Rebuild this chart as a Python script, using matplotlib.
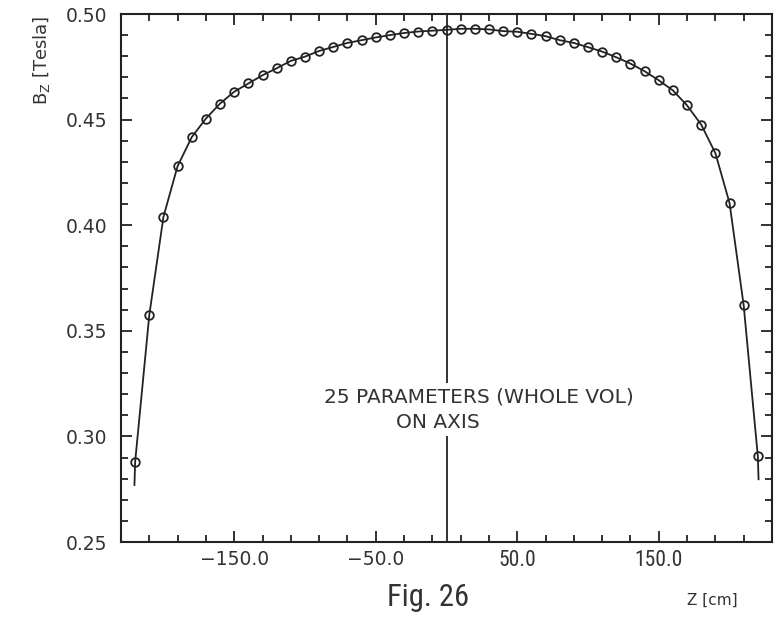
import matplotlib
matplotlib.use("Agg")
import matplotlib.pyplot as plt
from matplotlib.ticker import MultipleLocator, FixedLocator
from matplotlib import font_manager

# ---- data ----
z_cm = [-220, -210, -200, -190, -180, -170, -160, -150, -140, -130, -120,
        -110, -100, -90, -80, -70, -60, -50, -40, -30, -20, -10, 0,
        10, 20, 30, 40, 50, 60, 70, 80, 90, 100, 110, 120, 130, 140,
        150, 160, 170, 180, 190, 200, 210, 220]
bz_tesla = [0.288, 0.3575, 0.404, 0.428, 0.4417, 0.4505, 0.4576, 0.4632,
            0.4671, 0.4710, 0.4743, 0.4778, 0.4798, 0.4825, 0.4844, 0.4863,
            0.4876, 0.4889, 0.4900, 0.4910, 0.4917, 0.4921, 0.4925,
            0.4930, 0.4930, 0.4927, 0.4919, 0.4916, 0.4906, 0.4895, 0.4876,
            0.4863, 0.4843, 0.4822, 0.4795, 0.4765, 0.4729, 0.4686, 0.4638,
            0.4567, 0.4476, 0.4341, 0.4105, 0.3620, 0.2905]
# fitted curve continues a little below the outermost points
curve_start = (-220.5, 0.277)
curve_end = (220.5, 0.2797)

x_ticks = [-150, -50, 50, 150]
x_ticklabels = ["\u2212150.0", "\u221250.0", "50.0", "150.0"]
y_ticks = [0.25, 0.30, 0.35, 0.40, 0.45, 0.50]
y_ticklabels = ["0.25", "0.30", "0.35", "0.40", "0.45", "0.50"]

available = {f.name for f in font_manager.fontManager.ttflist}
narrow = [f for f in ["Liberation Sans Narrow", "DejaVu Sans Condensed",
                      "Roboto Condensed", "Roboto"] if f in available]
narrow = (narrow[:1] or []) + ["DejaVu Sans"]

W, H = 783, 618
fig = plt.figure(figsize=(W / 100, H / 100), dpi=100)
ax = fig.add_axes([121 / W, 1 - 542 / H, 651 / W, 528 / H])

curve_x = [curve_start[0]] + z_cm + [curve_end[0]]
curve_y = [curve_start[1]] + bz_tesla + [curve_end[1]]
ax.plot(curve_x, curve_y, color="#222222", lw=1.3, zorder=2)
ax.plot(z_cm, bz_tesla, linestyle="none", marker="o", ms=6.2,
        mfc="none", mec="#222222", mew=1.3, zorder=3)

ax.axvline(0, color="#222222", lw=1.3, zorder=1)

ax.set_xlim(-230, 230)
ax.set_ylim(0.25, 0.50)

ax.xaxis.set_major_locator(FixedLocator(x_ticks))
ax.set_xticklabels(x_ticklabels)
ax.xaxis.set_minor_locator(FixedLocator(list(range(-210, 230, 20))))
ax.yaxis.set_major_locator(FixedLocator(y_ticks))
ax.set_yticklabels(y_ticklabels)
ax.yaxis.set_minor_locator(MultipleLocator(0.01))

ax.tick_params(which="both", direction="in", top=True, right=True,
               color="#222222", width=1.3)
ax.tick_params(which="major", length=8)
ax.tick_params(which="minor", length=5)
ax.tick_params(axis="y", labelsize=13.5, pad=10, labelcolor="#333333")
ax.tick_params(axis="x", labelsize=13.5, pad=6, labelcolor="#333333")
for lbl, fam, size in zip(ax.get_xticklabels(),
                          [["DejaVu Sans"], ["DejaVu Sans"], narrow, narrow],
                          [13.5, 13.5, 15.5, 15.5]):
    lbl.set_fontfamily(fam)
    lbl.set_fontsize(size)

for sp in ax.spines.values():
    sp.set_linewidth(1.5)
    sp.set_color("#222222")

ax.text(23, 0.3187, "25 PARAMETERS (WHOLE VOL)", ha="center", va="center",
        fontsize=14.5, color="#333333",
        bbox=dict(facecolor="white", edgecolor="none", pad=3))
ax.text(-6, 0.3065, "ON AXIS", ha="center", va="center",
        fontsize=14.5, color="#333333",
        bbox=dict(facecolor="white", edgecolor="none", pad=3))

fig.text(42 / W, 1 - 60 / H, "B$_{\\mathregular{Z}}$ [Tesla]", rotation=90,
         ha="center", va="center", fontsize=13, color="#333333")
fig.text(428 / W, 1 - 597 / H, "Fig. 26", ha="center", va="center",
         fontsize=22, color="#333333", family=narrow)
fig.text(712 / W, 1 - 600 / H, "Z [cm]", ha="center", va="center",
         fontsize=11, color="#333333")

fig.savefig("out.png", dpi=100)
